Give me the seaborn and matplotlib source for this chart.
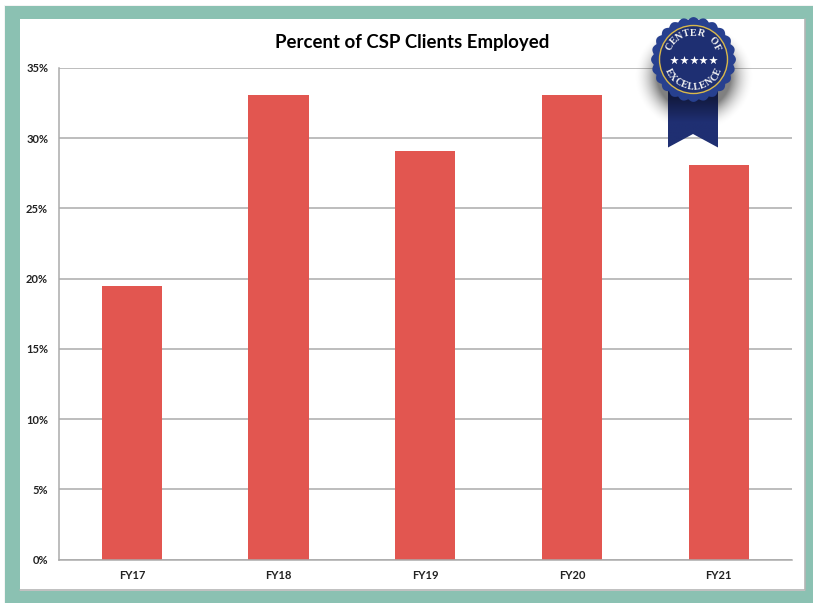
import numpy as np
import pandas as pd
import matplotlib
matplotlib.use("Agg")
import matplotlib.pyplot as plt
from matplotlib.patches import Polygon, Circle, Rectangle
import seaborn as sns

years = ["FY17", "FY18", "FY19", "FY20", "FY21"]
employed = [19.5, 33.1, 29.1, 33.1, 28.1]
ytick_vals = [0, 5, 10, 15, 20, 25, 30, 35]
ytick_labels = ["0%", "5%", "10%", "15%", "20%", "25%", "30%", "35%"]

W, H = 813, 603
sns.set_theme(style="white")
plt.rcParams["font.family"] = ["Lato", "DejaVu Sans"]

df = pd.DataFrame({"year": years, "employed": employed})

fig = plt.figure(figsize=(W / 100, H / 100), dpi=100, facecolor="white")

# frame behind everything, in pixel coords
bg = fig.add_axes([0, 0, 1, 1], zorder=0)
bg.set_xlim(0, W)
bg.set_ylim(H, 0)
bg.axis("off")
bg.add_patch(Rectangle((4, 5), W - 4, H - 5, color="#f4f4f4", lw=0))
bg.add_patch(Rectangle((5, 6), W - 5, H - 6, color="#8BC1B2", lw=0))
bg.add_patch(Rectangle((20, 19), 785, 572, color="white", lw=0))
bg.plot([20, 804.5, 804.5], [589.5, 589.5, 19], color="#b5b5b5", lw=1.2)

ax = fig.add_axes([58.5 / W, (H - 559.5) / H, (792 - 58.5) / W, (559.5 - 68) / H], zorder=1)
ax.patch.set_alpha(0)
sns.barplot(data=df, x="year", y="employed", color="#E25650", saturation=1, width=0.41, linewidth=0, ax=ax)
ax.set_xlim(-0.5, 4.5)
ax.set_ylim(0, 35)
ax.set_yticks(ytick_vals)
ax.set_yticklabels(ytick_labels)
ax.set_xlabel("")
ax.set_ylabel("")
ax.set_axisbelow(True)
ax.yaxis.grid(True, color="#ababab", lw=1.1)
ax.xaxis.grid(False)
for side in ["top", "right"]:
    ax.spines[side].set_visible(False)
for side in ["left", "bottom"]:
    ax.spines[side].set_color("#ababab")
    ax.spines[side].set_linewidth(1.1)
ax.tick_params(axis="y", length=0, pad=7.5, labelsize=8, labelcolor="#222222")
ax.tick_params(axis="x", length=0, pad=7.5, labelsize=8, labelcolor="#222222")
for lab in ax.get_xticklabels() + ax.get_yticklabels():
    lab.set_fontweight("bold")

fig.text(412.5 / W, 1 - 42.5 / H, "Percent of CSP Clients Employed", ha="center", va="center",
         fontsize=13.4, fontweight="bold", color="black")

# seal on top
top = fig.add_axes([0, 0, 1, 1], zorder=2)
top.set_xlim(0, W)
top.set_ylim(H, 0)
top.axis("off")
top.patch.set_alpha(0)

cx, cy = 693.5, 59.5

# soft shadow under the seal, sits low and spreads out sideways
xx, yy = np.meshgrid(np.linspace(620, 770, 300), np.linspace(20, 140, 240))
dist = np.hypot((xx - cx) / 1.08, yy - (cy + 17))
shadow = np.zeros(dist.shape + (4,))
shadow[..., 3] = np.clip((56 - dist) / 22, 0, 1) ** 2 * 0.5
top.imshow(shadow, extent=(620, 770, 140, 20), aspect="auto", zorder=1, interpolation="bilinear")

# ribbon with a dark top fading down
ribbon = Polygon([(668, 85), (718, 85), (718, 147.5), (693, 134), (668, 147.5)], closed=True,
                 facecolor="none", edgecolor="none", zorder=2)
top.add_patch(ribbon)
fade = np.linspace(0, 1, 100)[:, None]
c_dark = np.array([0x12, 0x1a, 0x40]) / 255
c_light = np.array([0x1f, 0x2f, 0x72]) / 255
grad = np.zeros((100, 1, 3))
for i in range(3):
    grad[:, :, i] = c_dark[i] + (c_light[i] - c_dark[i]) * np.clip((fade - 0.2) * 2.6, 0, 1)
img = top.imshow(grad, extent=(668, 718, 148, 85), aspect="auto", zorder=2)
img.set_clip_path(ribbon)

# scalloped disc
theta = np.linspace(0, 2 * np.pi, 720)
r = 40 + 2.4 * np.abs(np.cos(theta * 12))
top.add_patch(Polygon(np.c_[cx + r * np.cos(theta), cy + r * np.sin(theta)], closed=True,
                      facecolor="#27408F", edgecolor="none", zorder=3))
top.add_patch(Circle((cx, cy), 34, facecolor="#1E2F72", edgecolor="#D9B84A", lw=1, zorder=4))


def arc_text(txt, radius, mid_deg, step_deg, upper=True):
    n = len(txt)
    for i, ch in enumerate(txt):
        off = (i - (n - 1) / 2) * step_deg
        # angle measured clockwise from the top of the disc
        a = np.radians(mid_deg + off if upper else mid_deg - off)
        x = cx + radius * np.sin(a)
        y = cy - radius * np.cos(a)
        rot = -np.degrees(a) if upper else 180 - np.degrees(a)
        top.text(x, y, ch, ha="center", va="center", rotation=rot, rotation_mode="anchor",
                 fontsize=7.2, family="Liberation Serif", fontweight="bold", color="#F1F1F1", zorder=5)


arc_text("CENTER OF", 26.5, 0, 15.5, upper=True)
arc_text("EXCELLENCE", 27.5, 180, 14.2, upper=False)

top.scatter([674, 684, 693.5, 703, 713], [59.5] * 5, marker="*", s=42, color="white", lw=0, zorder=5)

top.set_xlim(0, W)
top.set_ylim(H, 0)

fig.savefig("out.png", dpi=100)
